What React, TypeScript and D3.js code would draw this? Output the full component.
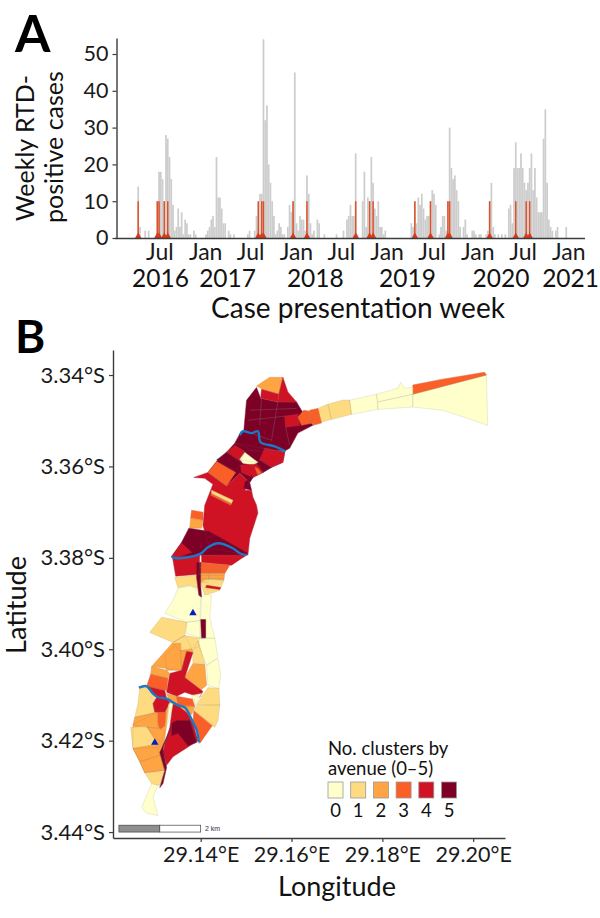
import { useEffect, useRef } from "react";
import {
  axisBottom,
  axisLeft,
  curveCatmullRom,
  line,
  scaleLinear,
  scaleOrdinal,
  scaleTime,
  select,
  symbol,
  symbolTriangle,
  timeFormat,
} from "d3";

const FONT = "Lato, 'Open Sans', sans-serif";

// panel A, cases per week from the first week of 2016
const FIRST_WEEK = new Date(2016, 0, 3);
const weeklyCases = [
  0, 0, 0, 0, 0, 0, 0, 0, 0, 0,
  0, 0, 0, 14, 3, 0, 0, 2, 0, 2,
  0, 0, 0, 0, 10, 18, 18, 16, 10, 28,
  27, 22, 16, 9, 2, 3, 8, 3, 7, 1,
  5, 4, 1, 1, 0, 2, 1, 0, 0, 0,
  0, 0, 1, 2, 3, 5, 6, 3, 22, 11,
  11, 8, 4, 4, 0, 2, 1, 0, 1, 0,
  0, 0, 0, 0, 0, 0, 1, 2, 0, 0,
  2, 6, 3, 12, 12, 54, 32, 36, 20, 15,
  10, 6, 1, 2, 4, 3, 1, 1, 0, 3,
  9, 7, 10, 45, 4, 2, 6, 5, 5, 2,
  17, 12, 4, 1, 2, 0, 5, 4, 0, 0,
  1, 0, 0, 0, 0, 0, 0, 1, 0, 0,
  0, 2, 0, 5, 6, 9, 6, 6, 23, 1,
  0, 0, 10, 18, 3, 11, 10, 22, 15, 8,
  6, 10, 3, 3, 1, 2, 0, 0, 0, 0,
  0, 0, 0, 0, 0, 0, 0, 0, 0, 0,
  4, 3, 10, 4, 11, 9, 12, 8, 5, 6,
  6, 10, 13, 12, 9, 0, 1, 3, 6, 6,
  2, 10, 30, 19, 16, 17, 13, 10, 3, 0,
  3, 5, 1, 0, 0, 2, 2, 1, 0, 1,
  1, 0, 0, 1, 2, 10, 15, 3, 1, 0,
  1, 0, 1, 0, 1, 0, 8, 9, 4, 19,
  26, 19, 19, 23, 19, 15, 13, 15, 19, 23,
  13, 19, 11, 7, 7, 7, 27, 35, 15, 5,
  3, 2, 0, 2, 3, 0, 0, 0, 0, 3,
];
// weeks with a cluster, drawn at the fixed height of 10
const clusterWeeks = [13, 24, 25, 28, 30, 82, 84, 85, 102, 110, 138, 146, 148, 172, 181, 191, 192, 215, 230, 236, 238];
const clusterHeight = 10;
const caseTicks = [0, 10, 20, 30, 40, 50];
const monthTicks = [
  new Date(2016, 6, 1), new Date(2017, 0, 1), new Date(2017, 6, 1), new Date(2018, 0, 1), new Date(2018, 6, 1),
  new Date(2019, 0, 1), new Date(2019, 6, 1), new Date(2020, 0, 1), new Date(2020, 6, 1), new Date(2021, 0, 1),
];
const yearLabels = ["2016", "2017", "2018", "2019", "2020", "2021"];
const yearLabelDates = [
  new Date(2016, 6, 5), new Date(2017, 3, 1), new Date(2018, 2, 20), new Date(2019, 2, 26), new Date(2020, 3, 5), new Date(2021, 0, 10),
];

// panel B, avenues as [clusters, ring], vertices are [lon, lat] in 1e-4 degrees past 29E and 3S
type Ring = [number, number][];
const avenues: [number, Ring][] = [
  [0, [[1867,3442],[2029,3400],[2032,3510],[1985,3494],[1933,3477],[1867,3470]]],
  [3, [[1867,3422],[1933,3409],[2025,3394],[2029,3400],[1867,3442]]],
  [0, [[1728,3455],[1787,3442],[1790,3475],[1732,3486]]],
  [0, [[1787,3442],[1834,3429],[1840,3416],[1849,3429],[1867,3427],[1867,3442],[1790,3459]]],
  [0, [[1790,3459],[1867,3442],[1867,3470],[1790,3475]]],
  [1, [[1680,3464],[1713,3455],[1728,3455],[1732,3486],[1688,3497]]],
  [1, [[1658,3473],[1680,3464],[1688,3497],[1666,3503]]],
  [3, [[1640,3477],[1658,3473],[1666,3505],[1647,3510]]],
  [5, [[1523,3427],[1501,3455],[1495,3521],[1486,3529],[1475,3549],[1519,3567],[1587,3565],[1596,3560],[1614,3527],[1647,3510],[1622,3477],[1611,3459],[1570,3459],[1532,3451]]],
  [2, [[1523,3424],[1552,3405],[1581,3405],[1572,3442],[1537,3431]]],
  [4, [[1581,3405],[1592,3437],[1611,3459],[1570,3459],[1572,3442]]],
  [4, [[1534,3431],[1572,3442],[1570,3459],[1532,3451]]],
  [4, [[1585,3490],[1614,3486],[1618,3510],[1587,3514]]],
  [3, [[1614,3492],[1627,3477],[1640,3479],[1647,3505],[1622,3510]]],
  [5, [[1416,3613],[1435,3589],[1457,3569],[1475,3549],[1541,3560],[1585,3569],[1581,3591],[1556,3602],[1537,3613],[1515,3624],[1508,3635],[1486,3615],[1457,3643]]],
  [4, [[1385,3624],[1416,3613],[1457,3643],[1486,3615],[1508,3635],[1497,3652],[1512,3652],[1515,3667],[1523,3685],[1526,3702],[1508,3757],[1504,3794],[1420,3779],[1405,3729],[1409,3685],[1422,3652],[1427,3639],[1409,3626]]],
  [3, [[1416,3613],[1435,3589],[1477,3613],[1457,3643]]],
  [4, [[1457,3569],[1475,3554],[1497,3567],[1488,3591]]],
  [5, [[1435,3586],[1457,3569],[1490,3591],[1479,3608],[1464,3604]]],
  [5, [[1497,3567],[1541,3560],[1585,3569],[1556,3602],[1530,3586],[1526,3591],[1486,3586]]],
  [4, [[1541,3560],[1585,3569],[1581,3591],[1556,3602],[1530,3586]]],
  [0, [[1486,3584],[1497,3569],[1526,3591],[1515,3597],[1493,3593]]],
  [5, [[1530,3586],[1556,3602],[1537,3613],[1526,3593]]],
  [4, [[1488,3597],[1523,3595],[1537,3613],[1515,3624],[1490,3613]]],
  [3, [[1519,3602],[1526,3604],[1534,3615],[1526,3619]]],
  [5, [[1497,3635],[1512,3619],[1515,3624],[1508,3635],[1512,3652],[1495,3648]]],
  [3, [[1424,3659],[1468,3681],[1466,3685],[1422,3663]]],
  [1, [[1424,3652],[1471,3674],[1468,3681],[1424,3659]]],
  [3, [[1380,3696],[1405,3700],[1405,3718],[1378,3713]]],
  [2, [[1378,3713],[1405,3718],[1402,3735],[1376,3735]]],
  [5, [[1374,3735],[1418,3742],[1446,3757],[1504,3790],[1493,3799],[1398,3794],[1343,3801],[1336,3797],[1358,3766]]],
  [4, [[1336,3797],[1358,3768],[1380,3788],[1343,3801]]],
  [4, [[1338,3799],[1398,3794],[1396,3836],[1345,3840]]],
  [4, [[1402,3794],[1501,3794],[1468,3816],[1402,3810]]],
  [3, [[1398,3810],[1464,3816],[1453,3834],[1396,3834]]],
  [2, [[1420,3834],[1453,3834],[1451,3849],[1416,3847]]],
  [2, [[1396,3834],[1420,3834],[1416,3854],[1398,3854]]],
  [1, [[1400,3854],[1416,3847],[1451,3849],[1442,3871],[1409,3882]]],
  [4, [[1413,3860],[1444,3865],[1442,3869],[1411,3865]]],
  [1, [[1343,3843],[1391,3838],[1394,3867],[1376,3860],[1350,3865]]],
  [0, [[1350,3867],[1376,3862],[1394,3871],[1400,3886],[1398,3937],[1369,3941],[1321,3921],[1339,3893]]],
  [0, [[1402,3886],[1409,3880],[1424,3882],[1420,3930],[1427,3959],[1431,3976],[1398,3976]]],
  [5, [[1400,3935],[1411,3935],[1411,3976],[1402,3978]]],
  [5, [[1391,3810],[1400,3810],[1400,3860],[1402,3886],[1396,3882],[1391,3843]]],
  [0, [[1369,3941],[1398,3937],[1400,3976],[1369,3965]]],
  [2, [[1339,3985],[1365,3970],[1383,4003],[1358,4046],[1292,4038]]],
  [1, [[1314,3930],[1369,3941],[1365,3970],[1339,3985],[1288,3963]]],
  [1, [[1339,3985],[1365,3970],[1398,3976],[1394,3996],[1354,4003]]],
  [0, [[1394,3976],[1431,3976],[1438,4018],[1413,4035],[1398,3998]]],
  [0, [[1413,4035],[1438,4020],[1444,4053],[1440,4086],[1416,4079]]],
  [1, [[1383,4003],[1394,3981],[1409,4031],[1383,4029]]],
  [2, [[1321,4013],[1339,3998],[1343,3987],[1356,3987],[1358,4046],[1325,4046]]],
  [2, [[1356,4003],[1369,4005],[1358,4046]]],
  [2, [[1383,4031],[1409,4033],[1413,4079],[1402,4088],[1365,4062]]],
  [4, [[1369,4005],[1383,4007],[1365,4062],[1405,4092],[1398,4105],[1365,4094],[1347,4103],[1325,4094],[1332,4053],[1358,4046]]],
  [2, [[1292,4038],[1325,4046],[1332,4053],[1328,4064],[1290,4055]]],
  [3, [[1290,4055],[1328,4064],[1325,4090],[1281,4081]]],
  [2, [[1251,4165],[1303,4138],[1332,4116],[1317,4222],[1321,4265],[1277,4270],[1266,4246],[1251,4217]]],
  [1, [[1266,4084],[1281,4081],[1299,4105],[1295,4119],[1303,4138],[1255,4149],[1262,4119]]],
  [4, [[1281,4081],[1321,4090],[1325,4108],[1332,4116],[1321,4138],[1299,4138],[1295,4119],[1303,4105]]],
  [3, [[1306,4138],[1323,4138],[1321,4167],[1310,4176],[1306,4160]]],
  [2, [[1255,4149],[1303,4138],[1306,4173],[1281,4171],[1251,4165]]],
  [1, [[1246,4171],[1281,4169],[1310,4200],[1303,4215],[1251,4217]]],
  [2, [[1281,4169],[1308,4173],[1321,4178],[1310,4215]]],
  [2, [[1251,4217],[1303,4208],[1310,4232],[1266,4246]]],
  [2, [[1266,4246],[1310,4232],[1321,4265],[1277,4270]]],
  [1, [[1277,4270],[1321,4268],[1310,4298],[1292,4294]]],
  [0, [[1292,4294],[1306,4298],[1295,4324],[1306,4364],[1281,4359],[1270,4346]]],
  [4, [[1339,4119],[1350,4123],[1369,4138],[1383,4160],[1394,4200],[1339,4235],[1325,4254],[1317,4222],[1332,4171]]],
  [5, [[1336,4162],[1347,4156],[1376,4156],[1391,4204],[1372,4211],[1350,4184],[1336,4189]]],
  [5, [[1336,4167],[1317,4217],[1325,4259],[1317,4294],[1310,4303],[1321,4265],[1310,4226]]],
  [0, [[1328,4162],[1339,4119],[1330,4119],[1325,4167]]],
  [3, [[1385,4134],[1427,4165],[1398,4206],[1394,4178],[1383,4160]]],
  [1, [[1391,4123],[1442,4121],[1438,4156],[1431,4171],[1385,4134]]],
  [1, [[1416,4084],[1440,4086],[1442,4123],[1391,4121]]],
  [2, [[1325,4097],[1347,4103],[1350,4123],[1332,4116]]],
  [3, [[1347,4103],[1387,4110],[1387,4125],[1365,4127],[1350,4123]]],
  [2, [[1350,4123],[1387,4125],[1380,4143],[1369,4136]]],
  [0, [[1380,4101],[1402,4097],[1387,4123]]],
];
const streets: Ring[] = [
  [[1534,3451],[1530,3510]],
  [[1570,3459],[1556,3543]],
  [[1508,3477],[1611,3473]],
  [[1504,3499],[1585,3490]],
  [[1587,3514],[1596,3554]],
  [[1495,3521],[1556,3543]],
  [[1398,3821],[1460,3825]],
  [[1398,3838],[1451,3838]],
  [[1398,3845],[1451,3845]],
];
const rivers: Ring[] = [
  [[1486,3532],[1493,3523],[1512,3527],[1526,3523],[1532,3547],[1563,3556],[1587,3567]],
  [[1336,3797],[1347,3801],[1398,3792],[1416,3777],[1438,3768],[1471,3779],[1486,3790],[1501,3794]],
  [[1264,4084],[1281,4081],[1295,4097],[1306,4105],[1325,4108],[1339,4116],[1350,4123],[1365,4127],[1376,4145],[1383,4160],[1391,4176],[1396,4204]],
];
const sites: Ring = [[1383,3921],[1299,4204]];

const lonTicks = [29.14, 29.16, 29.18, 29.2];
const latTicks = [3.34, 3.36, 3.38, 3.4, 3.42, 3.44];
const scaleBarLons = [29.122, 29.131, 29.14];
const scaleBarLats = [3.4385, 3.44];
const clusterClasses = [0, 1, 2, 3, 4, 5];
const clusterColors = ["#ffffcc", "#fedb80", "#fea443", "#fa5f28", "#d01225", "#7d0026"];

const weekDate = (w: number) => new Date(FIRST_WEEK.getTime() + w * 7 * 864e5);

const xWeek = scaleTime().domain([FIRST_WEEK, weekDate(270)]).range([114.7, 584.5]);
const yCases = scaleLinear().domain([0, 54.35]).range([238, 38]);
// both map scales run the full length of their axes
const xLon = scaleLinear().domain([29.1207, 29.207]).range([113, 505]);
const yLat = scaleLinear().domain([3.3345, 3.4413]).range([349.9, 838]);
const fillFor = scaleOrdinal<number, string>().domain(clusterClasses).range(clusterColors);

const px = ([u]: [number, number]) => xLon(29 + u / 1e4);
const py = ([, v]: [number, number]) => yLat(3 + v / 1e4);
const geoPath = line<[number, number]>().x(px).y(py);
const riverPath = line<[number, number]>().x(px).y(py).curve(curveCatmullRom);
const triangle = symbol().type(symbolTriangle);

function styleAxis(g: any, size: number) {
  g.selectAll("path").attr("stroke", "#3c3c3c").attr("stroke-width", 1.4);
  g.selectAll("line").attr("stroke", "#3c3c3c").attr("stroke-width", 1.2);
  g.selectAll("text").attr("fill", "#1a1a1a").style("font-family", FONT).style("font-size", `${size}px`);
}

function Axes() {
  const caseRef = useRef<SVGGElement>(null);
  const weekRef = useRef<SVGGElement>(null);
  const latRef = useRef<SVGGElement>(null);
  const lonRef = useRef<SVGGElement>(null);

  useEffect(() => {
    select(caseRef.current!)
      .call(axisLeft(yCases).tickValues(caseTicks).tickSize(4).tickSizeOuter(0).tickPadding(4))
      .call(styleAxis, 21.5);
    select(weekRef.current!)
      .call(
        axisBottom(xWeek)
          .tickValues(monthTicks)
          .tickSize(0)
          .tickPadding(6)
          .tickFormat((d) => timeFormat("%b")(d as Date)),
      )
      .call(styleAxis, 23);
    select(latRef.current!)
      .call(
        axisLeft(yLat)
          .tickValues(latTicks)
          .tickSize(4)
          .tickSizeOuter(0)
          .tickPadding(4)
          .tickFormat((d) => `${(d as number).toFixed(2)}°S`),
      )
      .call(styleAxis, 22);
    select(lonRef.current!)
      .call(
        axisBottom(xLon)
          .tickValues(lonTicks)
          .tickSize(4)
          .tickSizeOuter(0)
          .tickPadding(5)
          .tickFormat((d) => `${(d as number).toFixed(2)}°E`),
      )
      .call(styleAxis, 21.5);
  }, []);

  return (
    <>
      <g ref={caseRef} transform={`translate(116.5,0)`} />
      <g ref={weekRef} transform={`translate(0,238)`} />
      <g ref={latRef} transform={`translate(113,0)`} />
      <g ref={lonRef} transform={`translate(0,838)`} />
    </>
  );
}

export default function App() {
  return (
    <svg width={600} height={918} style={{ position: "absolute", left: 0, top: 0 }} fontFamily={FONT} fill="#111">
      {/* panel A */}
      {weeklyCases.map((value, w) =>
        value > 0 ? (
          <rect
            key={`week-${w}`}
            x={xWeek(weekDate(w))}
            y={yCases(value)}
            width={xWeek(weekDate(w + 1)) - xWeek(weekDate(w))}
            height={yCases(0) - yCases(value)}
            fill="#cdcdcd"
          />
        ) : null,
      )}
      {clusterWeeks.map((w) => {
        const cx = xWeek(weekDate(w + 0.5));
        return (
          <g key={`cluster-${w}`}>
            <line x1={cx} x2={cx} y1={yCases(0)} y2={yCases(clusterHeight)} stroke="#de5028" strokeWidth={1.5} />
            <path d={triangle.size(20)()!} transform={`translate(${cx},${yCases(0) - 1.5})`} fill="#d9391a" />
          </g>
        );
      })}
      <text x={15} y={52} fontSize={51} fontWeight={700} fill="#000">A</text>
      {["Weekly RTD-", "positive cases"].map((t, i) => (
        <text key={t} transform={`translate(${34 + i * 29},${i === 0 ? 148 : 147}) rotate(-90)`} textAnchor="middle" fontSize={25}>
          {t}
        </text>
      ))}
      {yearLabels.map((t, i) => (
        <text key={t} x={xWeek(yearLabelDates[i])} y={287} textAnchor="middle" fontSize={24.5}>
          {t}
        </text>
      ))}
      <text x={358} y={318} textAnchor="middle" fontSize={28}>Case presentation week</text>

      {/* panel B */}
      <text x={15} y={353} fontSize={46} fontWeight={700} fill="#000">B</text>
      {avenues.map(([n, ring], i) => (
        <path
          key={`avenue-${i}`}
          d={geoPath(ring)! + "Z"}
          fill={fillFor(n)}
          stroke={fillFor(n)}
          strokeWidth={0.4}
        />
      ))}
      {avenues.map(([n, ring], i) => (
        <path key={`edge-${i}`} d={geoPath(ring)! + "Z"} fill="none" stroke="#777" strokeOpacity={0.35} strokeWidth={0.4} />
      ))}
      {streets.map((s, i) => (
        <path key={`street-${i}`} d={geoPath(s)!} fill="none" stroke="#888" strokeOpacity={0.6} strokeWidth={0.5} />
      ))}
      {rivers.map((r, i) => (
        <path key={`river-${i}`} d={riverPath(r)!} fill="none" stroke="#1b78c4" strokeWidth={2.4} />
      ))}
      {sites.map((s, i) => (
        <path key={`site-${i}`} d={triangle.size(24)()!} transform={`translate(${px(s)},${py(s)})`} fill="#0a1fbf" />
      ))}

      <rect
        x={xLon(scaleBarLons[0])}
        y={yLat(scaleBarLats[0])}
        width={xLon(scaleBarLons[1]) - xLon(scaleBarLons[0])}
        height={yLat(scaleBarLats[1]) - yLat(scaleBarLats[0])}
        fill="#8f8f8f"
        stroke="#444"
        strokeWidth={0.7}
      />
      <rect
        x={xLon(scaleBarLons[1])}
        y={yLat(scaleBarLats[0])}
        width={xLon(scaleBarLons[2]) - xLon(scaleBarLons[1])}
        height={yLat(scaleBarLats[1]) - yLat(scaleBarLats[0])}
        fill="#fff"
        stroke="#444"
        strokeWidth={0.7}
      />
      <text x={205} y={831} fontSize={7} fontFamily="Liberation Sans, sans-serif" fill="#333">2 km</text>

      <text x={328} y={755} fontSize={18.5}>No. clusters by</text>
      <text x={328} y={775} fontSize={18.5}>avenue (0–5)</text>
      {clusterClasses.map((n, i) => (
        <g key={`legend-${n}`} transform={`translate(${328 + i * 22.7},782)`}>
          <rect width={15} height={16} fill={fillFor(n)} stroke="#999" strokeWidth={0.8} />
          <text x={7.5} y={35} textAnchor="middle" fontSize={18.5}>{n}</text>
        </g>
      ))}

      <text transform="translate(26,605) rotate(-90)" textAnchor="middle" fontSize={27}>Latitude</text>
      <text x={337} y={896} textAnchor="middle" fontSize={27}>Longitude</text>

      <Axes />
    </svg>
  );
}
